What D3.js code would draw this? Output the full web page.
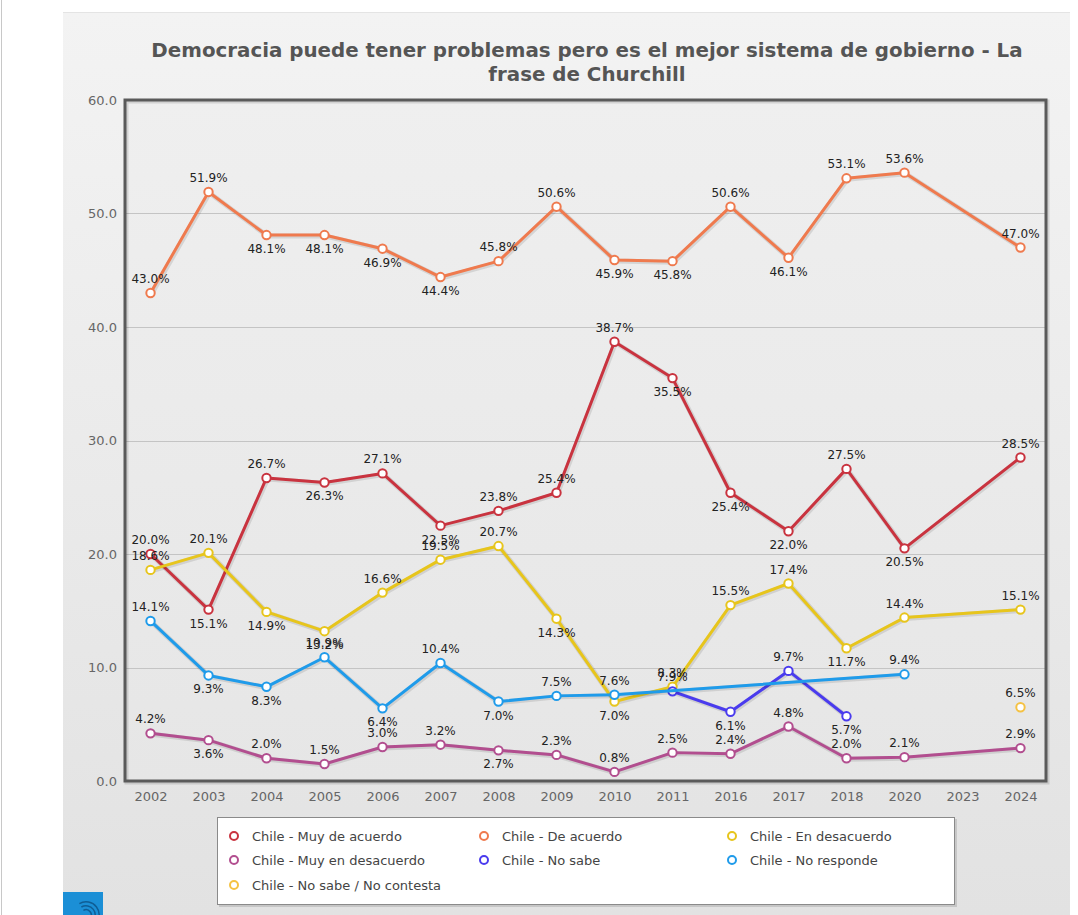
<!DOCTYPE html>
<html>
<head>
<meta charset="utf-8">
<script src="https://cdn.jsdelivr.net/npm/d3@7"></script>
<style>
  html, body { margin: 0; padding: 0; background: #fff; }
  svg { display: block; }
</style>
</head>
<body>
<svg id="chart" width="1078" height="915"></svg>
<script>
// ---------------- DATA ----------------
const years = ["2002","2003","2004","2005","2006","2007","2008","2009","2010","2011","2016","2017","2018","2020","2023","2024"];
const yTicks = [0, 10, 20, 30, 40, 50, 60];

const muyDeAcuerdo     = [20.0, 15.1, 26.7, 26.3, 27.1, 22.5, 23.8, 25.4, 38.7, 35.5, 25.4, 22.0, 27.5, 20.5, null, 28.5];
const deAcuerdo        = [43.0, 51.9, 48.1, 48.1, 46.9, 44.4, 45.8, 50.6, 45.9, 45.8, 50.6, 46.1, 53.1, 53.6, null, 47.0];
const enDesacuerdo     = [18.6, 20.1, 14.9, 13.2, 16.6, 19.5, 20.7, 14.3, 7.0, 8.3, 15.5, 17.4, 11.7, 14.4, null, 15.1];
const muyEnDesacuerdo  = [4.2, 3.6, 2.0, 1.5, 3.0, 3.2, 2.7, 2.3, 0.8, 2.5, 2.4, 4.8, 2.0, 2.1, null, 2.9];
const noSabe           = [null, null, null, null, null, null, null, null, null, 7.9, 6.1, 9.7, 5.7, null, null, null];
const noResponde       = [14.1, 9.3, 8.3, 10.9, 6.4, 10.4, 7.0, 7.5, 7.6, null, null, null, null, 9.4, null, null];
const noSabeNoContesta = [null, null, null, null, null, null, null, null, null, null, null, null, null, null, null, 6.5];

// label side per point: "a" = above, "b" = below
const sideMuyDeAcuerdo     = ["a","b","a","b","a","b","a","a","a","b","b","b","a","b","a","a"];
const sideDeAcuerdo        = ["a","a","b","b","b","b","a","a","b","b","a","b","a","a","a","a"];
const sideEnDesacuerdo     = ["a","a","b","b","a","a","a","b","b","a","a","a","b","a","a","a"];
const sideMuyEnDesacuerdo  = ["a","b","a","a","a","a","b","a","a","a","a","a","a","a","a","a"];
const sideNoSabe           = ["a","a","a","a","a","a","a","a","a","a","b","a","b","a","a","a"];
const sideNoResponde       = ["a","b","b","a","b","a","b","a","a","a","a","a","a","a","a","a"];
const sideNoSabeNoContesta = ["a","a","a","a","a","a","a","a","a","a","a","a","a","a","a","a"];

const seriesNames = ["Chile - Muy de acuerdo","Chile - De acuerdo","Chile - En desacuerdo",
                     "Chile - Muy en desacuerdo","Chile - No sabe","Chile - No responde",
                     "Chile - No sabe / No contesta"];
const seriesColors = ["#c9333f","#ef7a4e","#e7c51c","#b24e8f","#4a3bee","#1f9bea","#f5c243"];

const titleLines = ["Democracia puede tener problemas pero es el mejor sistema de gobierno - La", "frase de Churchill"];

const series = [
  {name: seriesNames[0], color: seriesColors[0], values: muyDeAcuerdo, sides: sideMuyDeAcuerdo},
  {name: seriesNames[1], color: seriesColors[1], values: deAcuerdo, sides: sideDeAcuerdo},
  {name: seriesNames[2], color: seriesColors[2], values: enDesacuerdo, sides: sideEnDesacuerdo},
  {name: seriesNames[3], color: seriesColors[3], values: muyEnDesacuerdo, sides: sideMuyEnDesacuerdo},
  {name: seriesNames[4], color: seriesColors[4], values: noSabe, sides: sideNoSabe},
  {name: seriesNames[5], color: seriesColors[5], values: noResponde, sides: sideNoResponde},
  {name: seriesNames[6], color: seriesColors[6], values: noSabeNoContesta, sides: sideNoSabeNoContesta}
];

// ---------------- LAYOUT ----------------
const svg = d3.select("#chart");
const plot = {left: 125, right: 1046, top: 100, bottom: 781};

const defs = svg.append("defs");
const gPanel = defs.append("linearGradient").attr("id","panelGrad").attr("x1",0).attr("y1",0).attr("x2",0).attr("y2",1);
gPanel.append("stop").attr("offset","0%").attr("stop-color","#f3f3f3");
gPanel.append("stop").attr("offset","100%").attr("stop-color","#e2e2e2");
const gPlot = defs.append("linearGradient").attr("id","plotGrad").attr("x1",0).attr("y1",0).attr("x2",0).attr("y2",1);
gPlot.append("stop").attr("offset","0%").attr("stop-color","#efefef");
gPlot.append("stop").attr("offset","100%").attr("stop-color","#e6e6e6");

// page left line
svg.append("line").attr("x1",1.5).attr("x2",1.5).attr("y1",0).attr("y2",915)
  .attr("stroke","#c8c8c8").attr("stroke-width",1);

// panel
svg.append("rect").attr("x",63).attr("y",12).attr("width",1007).attr("height",903)
  .attr("fill","url(#panelGrad)");
svg.append("line").attr("x1",63).attr("x2",1070).attr("y1",12.5).attr("y2",12.5)
  .attr("stroke","#e4e4e4");

// title
const title = svg.append("g").attr("font-family","'DejaVu Sans', Verdana, sans-serif")
  .attr("font-weight","bold").attr("fill","#555").attr("text-anchor","middle");
const t1 = title.append("text").attr("x",587).attr("y",57).attr("font-size",18).text(titleLines[0]);
const w1 = t1.node().getComputedTextLength();
const titleSize = 18 * 872 / w1;
t1.attr("font-size", titleSize);
title.append("text").attr("x",587).attr("y",81).attr("font-size",titleSize).text(titleLines[1]);

// scales
const x = d3.scalePoint().domain(years).range([plot.left, plot.right]).padding(0.44);
const y = d3.scaleLinear().domain([0, 60]).range([plot.bottom, plot.top]);

// plot background
svg.append("rect").attr("x",plot.left).attr("y",plot.top)
  .attr("width",plot.right-plot.left).attr("height",plot.bottom-plot.top)
  .attr("fill","url(#plotGrad)");

// grid
svg.append("g").selectAll("line").data(yTicks.slice(1,-1)).join("line")
  .attr("x1",plot.left).attr("x2",plot.right)
  .attr("y1",d => Math.round(y(d))+0.5).attr("y2",d => Math.round(y(d))+0.5)
  .attr("stroke","#c4c4c4").attr("stroke-width",1);

// frame shadow + frame
svg.append("rect").attr("x",plot.left+1.5).attr("y",plot.top+1.5)
  .attr("width",plot.right-plot.left).attr("height",plot.bottom-plot.top)
  .attr("fill","none").attr("stroke","rgba(0,0,0,0.12)").attr("stroke-width",4);
svg.append("rect").attr("x",plot.left).attr("y",plot.top)
  .attr("width",plot.right-plot.left).attr("height",plot.bottom-plot.top)
  .attr("fill","none").attr("stroke","#5a5a5a").attr("stroke-width",3);

// axes
const axisFont = "'DejaVu Sans', Verdana, sans-serif";
const yAxis = svg.append("g").attr("transform",`translate(${plot.left},0)`)
  .call(d3.axisLeft(y).tickValues(yTicks).tickFormat(d3.format(".1f")).tickSize(0).tickPadding(8));
yAxis.select(".domain").remove();
yAxis.selectAll("text").attr("font-family",axisFont).attr("font-size",13).attr("fill","#666");

const xAxis = svg.append("g").attr("transform",`translate(0,${plot.bottom})`)
  .call(d3.axisBottom(x).tickSize(0).tickPadding(11));
xAxis.select(".domain").remove();
xAxis.selectAll("text").attr("font-family",axisFont).attr("font-size",13).attr("fill","#666");

// lines
const line = d3.line().defined(d => d.v != null).x(d => x(d.year)).y(d => y(d.v));
const gLines = svg.append("g");
series.forEach(s => {
  const pts = years.map((yr,i) => ({year: yr, v: s.values[i], side: s.sides[i]}));
  const valid = pts.filter(p => p.v != null);
  const g = gLines.append("g");
  if (valid.length > 1) {
    g.append("path").attr("d", line(valid)).attr("fill","none")
      .attr("stroke","rgba(0,0,0,0.10)").attr("stroke-width",5)
      .attr("transform","translate(1,1)").attr("stroke-linejoin","round");
    g.append("path").attr("d", line(valid)).attr("fill","none")
      .attr("stroke",s.color).attr("stroke-width",3).attr("stroke-linejoin","round");
  }
  g.selectAll("circle").data(valid).join("circle")
    .attr("cx",d => x(d.year)).attr("cy",d => y(d.v)).attr("r",4.2)
    .attr("fill","#fff").attr("stroke",s.color).attr("stroke-width",2);
  s.pts = valid;
});

// data labels
const gLabels = svg.append("g").attr("font-family",axisFont).attr("font-size",12)
  .attr("fill","#222").attr("text-anchor","middle");
series.forEach(s => {
  gLabels.selectAll(null).data(s.pts).join("text")
    .attr("x",d => x(d.year))
    .attr("y",d => d.side === "a" ? y(d.v) - 10 : y(d.v) + 18)
    .text(d => d.v.toFixed(1) + "%");
});

// legend
const lg = svg.append("g");
lg.append("rect").attr("x",219).attr("y",819).attr("width",738).attr("height",88)
  .attr("fill","rgba(0,0,0,0.12)");
lg.append("rect").attr("x",217.5).attr("y",817.5).attr("width",737).attr("height",87)
  .attr("fill","#fff").attr("stroke","#8a8a8a").attr("stroke-width",1);
const colX = [234, 484, 732];
const rowY = [836, 860, 885];
series.forEach((s,i) => {
  const cx = colX[i % 3], cy = rowY[Math.floor(i / 3)];
  lg.append("circle").attr("cx",cx).attr("cy",cy).attr("r",4)
    .attr("fill","#fff").attr("stroke",s.color).attr("stroke-width",2);
  lg.append("text").attr("x",cx+18).attr("y",cy+4.5)
    .attr("font-family",axisFont).attr("font-size",13).attr("fill","#444")
    .text(s.name);
});

// bottom-left badge
const badge = svg.append("g");
badge.append("rect").attr("x",63).attr("y",892).attr("width",40).attr("height",23).attr("fill","#1b8fd6");
const arc = d3.arc();
[6, 10, 14].forEach(r => {
  badge.append("path")
    .attr("d", arc({innerRadius: r-1.5, outerRadius: r, startAngle: -Math.PI/6, endAngle: Math.PI*0.75}))
    .attr("transform","translate(86,915)").attr("fill","#0f5d95");
});
</script>
</body>
</html>
